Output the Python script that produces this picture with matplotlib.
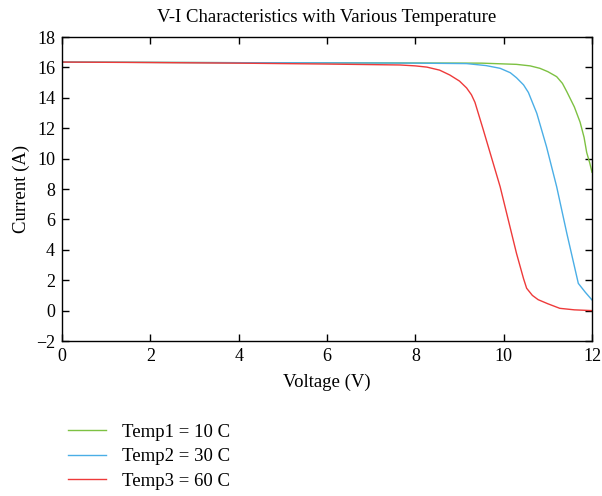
import matplotlib
matplotlib.use("Agg")
import matplotlib.pyplot as plt

# V-I curves
v_t1 = [0, 2, 4, 6, 8, 9.5, 10.29, 10.6, 10.82, 11.0, 11.2, 11.33, 11.43, 11.6, 11.73, 11.82, 11.88, 11.95, 12.0]
i_t1 = [16.35, 16.33, 16.31, 16.3, 16.29, 16.28, 16.2, 16.1, 15.94, 15.72, 15.39, 14.95, 14.4, 13.4, 12.4, 11.4, 10.4, 9.7, 9.1]

v_t2 = [0, 2, 4, 6, 8, 9.16, 9.6, 9.92, 10.15, 10.29, 10.45, 10.56, 10.65, 10.75, 10.97, 11.2, 11.43, 11.69, 11.85, 12.0]
i_t2 = [16.35, 16.33, 16.31, 16.3, 16.28, 16.25, 16.12, 15.94, 15.65, 15.32, 14.85, 14.35, 13.7, 12.98, 10.78, 8.15, 5.08, 1.79, 1.2, 0.7]

v_t3 = [0, 2, 4, 6, 7.65, 8.0, 8.26, 8.55, 8.78, 9.0, 9.16, 9.27, 9.35, 9.54, 9.92, 10.29, 10.45, 10.52, 10.65, 10.78, 11.0, 11.27, 11.6, 12.0]
i_t3 = [16.35, 16.32, 16.28, 16.22, 16.16, 16.1, 16.02, 15.82, 15.5, 15.1, 14.65, 14.2, 13.7, 11.88, 8.15, 3.77, 2.1, 1.47, 1.0, 0.72, 0.45, 0.15, 0.05, 0.0]

labels = ["Temp1 = 10 C", "Temp2 = 30 C", "Temp3 = 60 C"]
colors = ["#7dc142", "#4aaee6", "#ee3a3a"]

plt.rcParams['font.family'] = ['Liberation Serif', 'DejaVu Serif']

fig = plt.figure(figsize=(6.02, 4.96), dpi=100)
ax = fig.add_axes([0.103, 0.3125, 0.8804, 0.6129])

for v, i, lab, c in zip([v_t1, v_t2, v_t3], [i_t1, i_t2, i_t3], labels, colors):
    ax.plot(v, i, color=c, linewidth=1.0, label=lab)

ax.set_xlim(0, 12)
ax.set_ylim(-2, 18)
ax.set_xticks(range(0, 13, 2))
ax.set_yticks(range(-2, 19, 2))
ax.set_yticklabels(['\u22122'] + [str(t) for t in range(0, 19, 2)])
ax.tick_params(direction='in', top=True, right=True, labelsize=13, length=5, width=1, pad=5)
for s in ax.spines.values():
    s.set_linewidth(1.0)

ax.set_title("V-I Characteristics with Various Temperature", fontsize=13.5, pad=11)
ax.set_xlabel("Voltage (V)", fontsize=13.5, labelpad=6)
ax.set_ylabel("Current (A)", fontsize=13.5, labelpad=4)

fig.legend(loc='upper left', bbox_to_anchor=(0.085, 0.18), frameon=False,
           fontsize=13.5, handlelength=2.0, handletextpad=0.9, labelspacing=0.39)

fig.savefig("out.png", dpi=100)
